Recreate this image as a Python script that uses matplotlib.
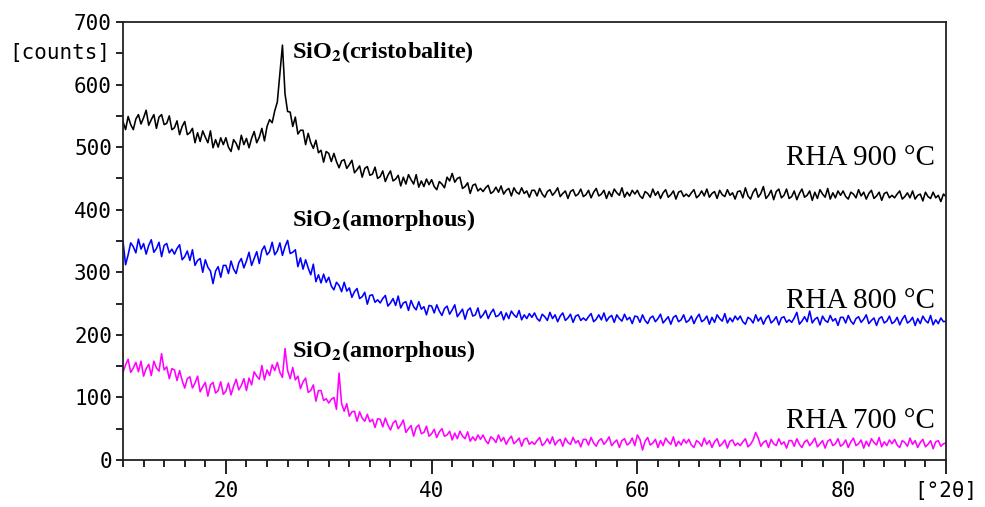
import numpy as np
import matplotlib
matplotlib.use("Agg")
import matplotlib.pyplot as plt
from matplotlib.ticker import MultipleLocator

# 2-theta grid: 10..90 deg in 0.25 deg steps (321 points)
two_theta = np.arange(321) * 0.25 + 10.0

rha_900 = [
    541, 528, 549, 536, 528, 545, 552, 537, 547, 559, 535, 544, 552, 530, 548, 552, 536, 538, 550, 528,
    531, 542, 520, 533, 541, 520, 523, 530, 507, 523, 509, 526, 516, 507, 526, 499, 512, 500, 515, 504,
    515, 500, 493, 512, 506, 496, 519, 504, 514, 499, 514, 525, 507, 516, 530, 510, 533, 544, 539, 558,
    572, 618, 663, 585, 557, 556, 533, 548, 521, 527, 527, 504, 522, 507, 498, 511, 491, 495, 476, 493,
    490, 477, 490, 477, 467, 478, 480, 466, 472, 479, 459, 464, 470, 452, 466, 469, 455, 457, 468, 450,
    453, 462, 445, 455, 462, 446, 449, 455, 438, 452, 441, 456, 448, 441, 456, 436, 446, 437, 449, 440,
    448, 437, 432, 445, 441, 435, 452, 446, 458, 444, 450, 452, 434, 437, 443, 426, 439, 441, 430, 434,
    429, 435, 439, 426, 429, 436, 428, 438, 425, 431, 434, 422, 435, 428, 425, 435, 426, 430, 420, 431,
    431, 422, 434, 425, 420, 429, 432, 423, 428, 435, 421, 426, 430, 418, 429, 432, 422, 425, 433, 421,
    424, 431, 419, 428, 434, 422, 425, 431, 418, 429, 421, 433, 427, 423, 435, 420, 428, 422, 431, 425,
    431, 422, 418, 429, 426, 420, 433, 423, 429, 418, 427, 432, 420, 424, 430, 417, 428, 430, 421, 425,
    421, 427, 432, 419, 423, 430, 422, 433, 420, 426, 429, 418, 431, 424, 421, 432, 423, 427, 417, 429,
    430, 419, 435, 422, 417, 428, 434, 420, 426, 437, 418, 423, 431, 416, 429, 433, 419, 423, 433, 418,
    421, 430, 416, 426, 433, 420, 423, 430, 415, 428, 418, 432, 425, 420, 434, 417, 427, 419, 430, 423,
    430, 421, 417, 428, 425, 419, 432, 422, 428, 417, 426, 431, 418, 422, 428, 415, 426, 428, 419, 423,
    419, 425, 430, 417, 421, 427, 419, 430, 417, 423, 425, 414, 428, 421, 418, 428, 419, 423, 413, 425,
    421,
]

rha_800 = [
    350, 312, 328, 347, 341, 331, 353, 337, 346, 329, 343, 352, 332, 338, 348, 325, 343, 346, 331, 337,
    329, 338, 344, 320, 325, 334, 319, 336, 311, 319, 322, 300, 320, 308, 302, 282, 302, 309, 292, 311,
    311, 298, 318, 305, 298, 315, 322, 307, 318, 332, 311, 322, 333, 314, 335, 342, 328, 333, 348, 328,
    334, 347, 327, 341, 351, 330, 332, 336, 309, 323, 305, 320, 307, 296, 313, 285, 296, 283, 297, 284,
    292, 278, 272, 284, 279, 269, 284, 270, 275, 260, 269, 274, 258, 261, 268, 249, 263, 264, 252, 256,
    251, 258, 263, 246, 251, 258, 247, 262, 243, 251, 253, 239, 255, 245, 240, 253, 241, 245, 232, 247,
    246, 235, 248, 238, 231, 242, 246, 233, 240, 248, 229, 235, 241, 225, 239, 243, 230, 232, 243, 227,
    232, 239, 226, 235, 241, 229, 231, 237, 224, 235, 226, 238, 232, 228, 239, 224, 232, 226, 234, 228,
    235, 226, 222, 233, 229, 223, 236, 226, 232, 221, 230, 235, 223, 227, 233, 220, 230, 232, 223, 227,
    223, 229, 234, 221, 225, 232, 224, 235, 222, 228, 231, 220, 232, 226, 222, 233, 224, 228, 218, 230,
    229, 220, 232, 223, 218, 227, 230, 221, 226, 233, 219, 224, 229, 217, 228, 231, 221, 224, 232, 220,
    223, 230, 218, 227, 233, 221, 224, 230, 217, 228, 220, 232, 226, 222, 234, 219, 227, 221, 230, 224,
    230, 221, 217, 228, 225, 219, 232, 222, 228, 217, 226, 231, 219, 223, 229, 216, 227, 229, 220, 224,
    220, 227, 236, 217, 222, 229, 221, 238, 219, 225, 228, 216, 230, 223, 220, 231, 222, 226, 215, 228,
    228, 219, 231, 222, 217, 226, 229, 220, 225, 232, 218, 223, 227, 215, 226, 229, 219, 222, 230, 218,
    221, 228, 216, 225, 231, 219, 222, 228, 215, 226, 218, 230, 223, 219, 231, 216, 224, 218, 227, 221,
    222,
]

rha_700 = [
    140, 152, 161, 140, 147, 156, 141, 158, 134, 146, 153, 135, 158, 147, 142, 170, 144, 149, 130, 146,
    144, 127, 143, 127, 115, 130, 133, 115, 123, 134, 109, 117, 124, 102, 120, 124, 107, 111, 125, 105,
    110, 123, 104, 118, 129, 112, 119, 130, 111, 131, 120, 141, 134, 129, 151, 128, 144, 135, 152, 143,
    156, 140, 132, 178, 143, 130, 148, 128, 134, 114, 125, 131, 108, 111, 120, 94, 111, 111, 95, 98,
    91, 97, 100, 81, 139, 90, 78, 90, 70, 77, 78, 62, 77, 67, 62, 73, 61, 65, 52, 66,
    65, 53, 67, 56, 48, 59, 63, 50, 56, 64, 44, 50, 55, 38, 52, 56, 42, 44, 54, 38,
    42, 49, 36, 45, 50, 38, 40, 46, 32, 43, 34, 46, 38, 34, 45, 30, 37, 31, 40, 33,
    40, 31, 26, 37, 34, 28, 40, 30, 36, 25, 33, 38, 26, 30, 35, 22, 33, 35, 25, 29,
    25, 31, 36, 23, 27, 34, 26, 37, 24, 30, 33, 22, 35, 28, 25, 36, 27, 31, 21, 33,
    33, 24, 36, 27, 22, 31, 34, 25, 30, 37, 23, 28, 32, 20, 31, 34, 24, 27, 35, 23,
    40, 33, 16, 30, 36, 24, 27, 33, 20, 31, 23, 35, 29, 25, 37, 22, 30, 24, 33, 27,
    33, 24, 20, 31, 28, 22, 35, 25, 31, 20, 29, 34, 22, 26, 32, 19, 30, 32, 23, 27,
    23, 29, 34, 21, 25, 32, 44, 35, 22, 28, 31, 20, 33, 26, 23, 34, 25, 29, 19, 31,
    31, 22, 34, 25, 20, 29, 32, 23, 28, 35, 21, 26, 31, 19, 30, 33, 23, 26, 34, 22,
    25, 32, 20, 29, 35, 23, 26, 32, 19, 30, 22, 34, 28, 24, 36, 21, 29, 23, 32, 26,
    33, 24, 20, 31, 28, 22, 35, 25, 31, 20, 28, 33, 21, 25, 31, 18, 29, 31, 22, 26,
    27,
]

series_labels = ["RHA 900 °C", "RHA 800 °C", "RHA 700 °C"]
series_colors = ["#000000", "#0000ff", "#ff00ff"]

plt.rcParams["mathtext.fontset"] = "stix"

fig = plt.figure(figsize=(9.85, 5.07), dpi=100)
ax = fig.add_axes([123 / 985, 47 / 507, 823 / 985, 438 / 507])

for y, c in zip([rha_900, rha_800, rha_700], series_colors):
    ax.plot(two_theta, y, color=c, linewidth=1.15)

ax.set_xlim(10, 90)
ax.set_ylim(0, 700)

# axes box and ticks
for s in ax.spines.values():
    s.set_linewidth(1.3)
    s.set_color("#222222")

mono = "DejaVu Sans Mono"
ax.set_xticks([20, 40, 60, 80, 90])
ax.set_xticklabels(["20", "40", "60", "80", "[°2θ]"], family=mono, fontsize=15)
ax.xaxis.set_minor_locator(MultipleLocator(2))
ax.tick_params(axis="x", which="major", direction="out", length=10, width=1.2, pad=5)
ax.tick_params(axis="x", which="minor", direction="out", length=5, width=1.2)

ax.set_yticks(np.arange(0, 701, 100))
ax.set_yticklabels([str(v) for v in range(0, 701, 100)], family=mono, fontsize=15)
ax.yaxis.set_minor_locator(MultipleLocator(50))
ax.tick_params(axis="y", which="both", direction="out", length=5, width=1.2, pad=3)

ax.text(-0.016, 650, "[counts]", transform=ax.get_yaxis_transform(),
        ha="right", va="center", family=mono, fontsize=15)

# peak annotations
ann_kw = dict(family="Liberation Serif", fontweight="bold", fontsize=17.5, ha="left", va="center")
ax.text(26.4, 652, r"SiO$_\mathbf{2}$(cristobalite)", **ann_kw)
ax.text(26.4, 384, r"SiO$_\mathbf{2}$(amorphous)", **ann_kw)
ax.text(26.4, 175, r"SiO$_\mathbf{2}$(amorphous)", **ann_kw)

for lab, yy in zip(series_labels, [482, 254, 62]):
    ax.text(88.9, yy, lab, family="Liberation Serif", fontsize=21,
            ha="right", va="center")

fig.savefig("out.png", dpi=100, facecolor="white")
